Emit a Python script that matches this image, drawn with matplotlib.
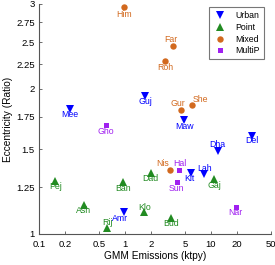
import matplotlib
matplotlib.use("Agg")
import matplotlib.pyplot as plt
from matplotlib.ticker import FixedLocator, FixedFormatter, NullLocator
from matplotlib.lines import Line2D

plt.rcParams['font.family'] = ['Liberation Sans', 'DejaVu Sans']

# ---- data ----
urban_names = ["Mee", "Guj", "Maw", "Dha", "Del", "Kit", "Lah", "Amr"]
urban_x = [0.23, 1.71, 4.9, 12.0, 30.0, 5.8, 8.3, 0.97]
urban_y = [1.82, 1.93, 1.72, 1.49, 1.60, 1.34, 1.33, 1.11]

point_names = ["Pej", "Ban", "Ash", "Rij", "Dad", "Gaj", "Klo", "Bud"]
point_x = [0.155, 0.955, 0.33, 0.62, 2.0, 10.9, 1.66, 3.4]
point_y = [1.29, 1.28, 1.15, 1.03, 1.34, 1.30, 1.11, 1.08]

mixed_names = ["Him", "Far", "Roh", "Gur", "She", "Nis"]
mixed_x = [0.97, 3.64, 2.92, 4.48, 6.0, 3.34]
mixed_y = [2.95, 2.46, 2.29, 1.81, 1.85, 1.36]

multip_names = ["Gho", "Hal", "Sun", "Nar"]
multip_x = [0.60, 4.25, 4.0, 19.4]
multip_y = [1.68, 1.36, 1.28, 1.14]

x_ticks = [0.1, 0.2, 0.5, 1, 2, 5, 10, 20, 50]
x_tick_labels = ["0.1", "0.2", "0.5", "1", "2", "5", "10", "20", "50"]
y_ticks = [1, 1.25, 1.5, 1.75, 2, 2.25, 2.5, 2.75, 3]
y_tick_labels = ["1", "1.25", "1.5", "1.75", "2", "2.25", "2.5", "2.75", "3"]

# label offsets in pixels (dx, dy)
label_offsets = {
    "Him": (0, -7), "Mee": (0, -6), "Gho": (0, -6), "Far": (-2, 6), "Roh": (0, -7),
    "Guj": (0, -5), "Gur": (-3, 6), "She": (9, 6), "Maw": (0, -6), "Dha": (0, 6),
    "Del": (0, -5), "Nis": (-7, 6), "Hal": (1, 6), "Kit": (-1, -6), "Lah": (1, 6),
    "Gaj": (0, -6), "Dad": (0, -6), "Sun": (0, -6), "Klo": (1, 5), "Bud": (0, -6),
    "Nar": (0, -6), "Pej": (0, -6), "Ban": (0, -6), "Ash": (0, -6), "Amr": (-4, -6),
    "Rij": (0, 5),
}

BLUE = "#0000FF"
GREEN = "#228B22"
ORANGE = "#D2691E"
PURPLE = "#A020F0"

fig = plt.figure(figsize=(2.75, 2.65), dpi=100)
ax = fig.add_axes([0.142, 0.117, 0.843, 0.868])

groups = [
    ("Urban", urban_names, urban_x, urban_y, "v", BLUE, 5.2),
    ("Point", point_names, point_x, point_y, "^", GREEN, 5.2),
    ("Mixed", mixed_names, mixed_x, mixed_y, "o", ORANGE, 4.6),
    ("MultiP", multip_names, multip_x, multip_y, "s", PURPLE, 3.6),
]

handles = []
for label, names, xs, ys, mk, col, ms in groups:
    ax.plot(xs, ys, linestyle="none", marker=mk, color=col, markersize=ms,
            markeredgewidth=0, zorder=3)
    for n, x, y in zip(names, xs, ys):
        dx, dy = label_offsets[n]
        ax.annotate(n, (x, y), xytext=(dx, dy), textcoords="offset pixels",
                    ha="center", va="center", color=col, fontsize=6.3, zorder=4)
    handles.append(Line2D([], [], linestyle="none", marker=mk, color=col,
                          markersize=ms, markeredgewidth=0, label=label))

ax.set_xscale("log")
ax.set_yscale("log")
ax.set_xlim(0.1, 50)
ax.set_ylim(1, 3)

ax.xaxis.set_major_locator(FixedLocator(x_ticks))
ax.xaxis.set_major_formatter(FixedFormatter(x_tick_labels))
ax.xaxis.set_minor_locator(NullLocator())
ax.yaxis.set_major_locator(FixedLocator(y_ticks))
ax.yaxis.set_major_formatter(FixedFormatter(y_tick_labels))
ax.yaxis.set_minor_locator(NullLocator())

ax.tick_params(direction="in", length=2.5, width=0.6, labelsize=6.8,
               color="#555555")
ax.tick_params(axis="x", pad=4)
ax.tick_params(axis="y", pad=3)
for s in ["top", "right"]:
    ax.spines[s].set_visible(False)
for s in ["left", "bottom"]:
    ax.spines[s].set_linewidth(0.8)
    ax.spines[s].set_color("#555555")

ax.set_xlabel("GMM Emissions (ktpy)", fontsize=7.3, labelpad=2)
ax.set_ylabel("Eccentricity (Ratio)", fontsize=7.3, labelpad=2)

leg = ax.legend(handles=handles, loc="upper right", bbox_to_anchor=(0.97, 0.985),
                fontsize=6.3, frameon=True, fancybox=False, borderpad=0.45,
                handlelength=1.6, handletextpad=1.0, labelspacing=0.3,
                borderaxespad=0)
leg.get_frame().set_edgecolor("#555555")
leg.get_frame().set_linewidth(0.8)

fig.savefig("out.png", dpi=100)
